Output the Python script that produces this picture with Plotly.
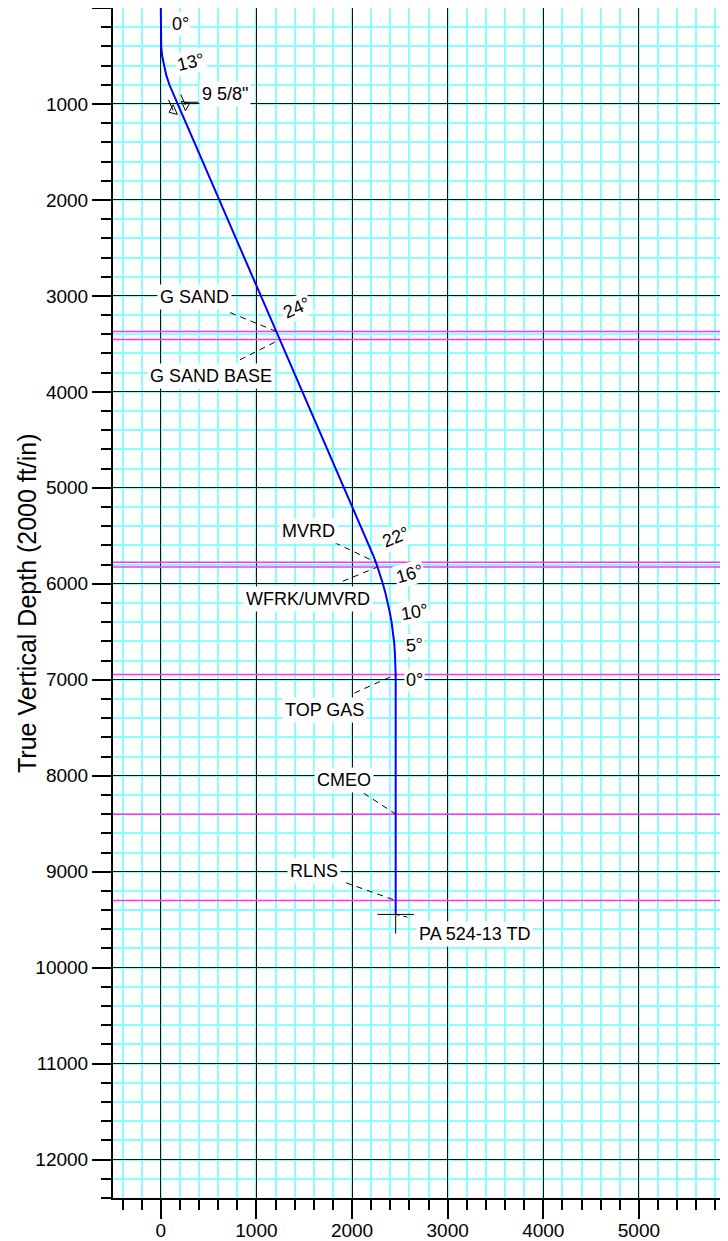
import numpy as np
import plotly.graph_objects as go

# ---- data ----
tvd = [0, 300, 400, 500, 600, 700, 800, 870, 1000, 1500, 2000, 2500, 3000, 3500,
       4000, 4500, 5000, 5500, 5608, 5700, 5800, 5900, 6000, 6100, 6200, 6300,
       6400, 6500, 6600, 6700, 6800, 6944, 9445]
hd = [0, 0, 4, 14, 32, 57, 90, 119, 176, 394, 612, 830, 1047, 1265,
      1482, 1700, 1917, 2135, 2182, 2220, 2258, 2292, 2322, 2350, 2374, 2395,
      2413, 2427, 2439, 2447, 2453, 2456, 2456]

top_names = ["G SAND", "G SAND BASE", "MVRD", "WFRK/UMVRD", "TOP GAS", "CMEO", "RLNS"]
top_tvd = [3370, 3455, 5775, 5825, 6945, 8400, 9300]
# label anchor (x, y) and leader start (x, y) in data units
top_label_x = [350, 522, 1546, 1539, 1713, 1914, 1601]
top_label_y = [3010, 3832, 5445, 6156, 7318, 8047, 8994]
top_lead_x = [724, 828, 1817, 1903, 2025, 2122, 1938]
top_lead_y = [3174, 3666, 5570, 5973, 7138, 8182, 9116]

angle_text = ["0°", "13°", "24°", "22°", "16°", "10°", "5°", "0°"]
angle_val = [0, 13, 24, 22, 16, 10, 5, 0]
angle_x = [204, 314, 1417, 2458, 2597, 2649, 2649, 2649]
angle_y = [166, 565, 3122, 5508, 5896, 6295, 6642, 7006]

casing_label = '9 5/8"'
casing_tvd = 1040
casing_label_xy = (672, 895)

td_label = "PA 524-13 TD"
td_tvd = 9445
td_label_xy = (3280, 9652)
td_lead_end = (2620, 9483)

x_range = [-500, 6015]
y_range = [12400, 0]
x_ticks = [0, 1000, 2000, 3000, 4000, 5000]
y_ticks = list(range(0, 13000, 1000))
y_title = "True Vertical Depth (2000 ft/in)"

FONT = "Liberation Sans, Arial, sans-serif"
fig = go.Figure()

# formation tops (magenta lines)
for t in top_tvd:
    fig.add_trace(go.Scatter(x=x_range, y=[t, t], mode="lines",
                             line=dict(color="#FF33FF", width=1.5), hoverinfo="skip"))

# well path
fig.add_trace(go.Scatter(x=hd, y=tvd, mode="lines",
                         line=dict(color="#0000FF", width=2), hoverinfo="skip"))

# leaders
for name, t, lx, ly in zip(top_names, top_tvd, top_lead_x, top_lead_y):
    cx = float(np.interp(t, tvd, hd))
    fig.add_trace(go.Scatter(x=[lx, cx], y=[ly, t], mode="lines",
                             line=dict(color="black", width=1, dash="6px,5px"),
                             hoverinfo="skip"))

# casing shoe symbol
cx = float(np.interp(casing_tvd, tvd, hd))
ang = np.radians(23.5)
ux, uy = np.sin(ang), np.cos(ang)      # along hole (down)
px_, py_ = np.cos(ang), -np.sin(ang)   # perpendicular (right)
off = 70
ln = 120
for s, sym in [(-1, "triangle-left-open"), (1, "triangle-right-open")]:
    bx, by = cx + s * off * px_, casing_tvd + s * off * py_
    fig.add_trace(go.Scatter(x=[bx - ln * ux, bx], y=[by - ln * uy, by], mode="lines",
                             line=dict(color="black", width=1), hoverinfo="skip"))
    fig.add_trace(go.Scatter(x=[bx], y=[by], mode="markers",
                             marker=dict(symbol=sym, size=9, angle=-23.5,
                                         color="black", line=dict(width=1)),
                             hoverinfo="skip"))
bx, by = cx + off * px_, casing_tvd + off * py_
fig.add_trace(go.Scatter(x=[bx, casing_label_xy[0] - 280], y=[by - 30, by - 30], mode="lines",
                         line=dict(color="black", width=1), hoverinfo="skip"))

# TD marker
tdx = float(np.interp(td_tvd, tvd, hd))
fig.add_trace(go.Scatter(x=[tdx - 190, tdx + 190], y=[td_tvd, td_tvd], mode="lines",
                         line=dict(color="black", width=1), hoverinfo="skip"))
fig.add_trace(go.Scatter(x=[tdx, tdx], y=[td_tvd, td_tvd + 200], mode="lines",
                         line=dict(color="black", width=1), hoverinfo="skip"))
fig.add_trace(go.Scatter(x=[tdx, td_lead_end[0]], y=[td_tvd, td_lead_end[1]], mode="lines",
                         line=dict(color="black", width=1, dash="4px,4px"), hoverinfo="skip"))

annots = []
for name, lx, ly in zip(top_names, top_label_x, top_label_y):
    annots.append(dict(x=lx, y=ly, text=name, showarrow=False, bgcolor="white",
                       borderpad=2, font=dict(size=18, color="black", family=FONT)))
for txt, a, ax_, ay_ in zip(angle_text, angle_val, angle_x, angle_y):
    annots.append(dict(x=ax_, y=ay_, text=txt, showarrow=False, bgcolor="white",
                       textangle=-a, borderpad=1,
                       font=dict(size=18, color="black", family=FONT)))
annots.append(dict(x=casing_label_xy[0], y=casing_label_xy[1], text=casing_label,
                   showarrow=False, bgcolor="white", borderpad=2,
                   font=dict(size=18, color="black", family=FONT)))
annots.append(dict(x=td_label_xy[0], y=td_label_xy[1], text=td_label,
                   showarrow=False, bgcolor="white", borderpad=2,
                   font=dict(size=18, color="black", family=FONT)))
# y-axis title, placed in paper coordinates
annots.append(dict(xref="paper", yref="paper", x=-0.138, y=0.5, text=y_title,
                   textangle=-90, showarrow=False, xanchor="center", yanchor="middle",
                   font=dict(size=25, color="black", family=FONT)))

grid_major = "#111111"
grid_minor = "#88FFFF"
common = dict(ticks="outside", ticklen=19, tickwidth=1.5, tickcolor="black",
              showline=True, linecolor="black", linewidth=2, mirror=False,
              showgrid=True, gridcolor=grid_major, gridwidth=1.2, zeroline=False,
              automargin=False, tickfont=dict(size=19, family=FONT, color="black"),
              minor=dict(dtick=200, tick0=0, ticks="outside", ticklen=10, tickwidth=1.5,
                         tickcolor="black", showgrid=True, gridcolor=grid_minor, gridwidth=1.5))
fig.update_layout(
    width=728, height=1241,
    margin=dict(l=105, r=0, t=0, b=51, autoexpand=False),
    plot_bgcolor="white", paper_bgcolor="white",
    showlegend=False,
    annotations=annots,
    font=dict(family=FONT, size=18, color="black"),
    xaxis=dict(range=x_range, tickvals=x_ticks, ticktext=[str(v) for v in x_ticks],
               ticklabelstandoff=-5, **common),
    yaxis=dict(range=y_range, tickvals=y_ticks, ticktext=[str(v) for v in y_ticks],
               **common),
)
fig.write_html("out.html")
